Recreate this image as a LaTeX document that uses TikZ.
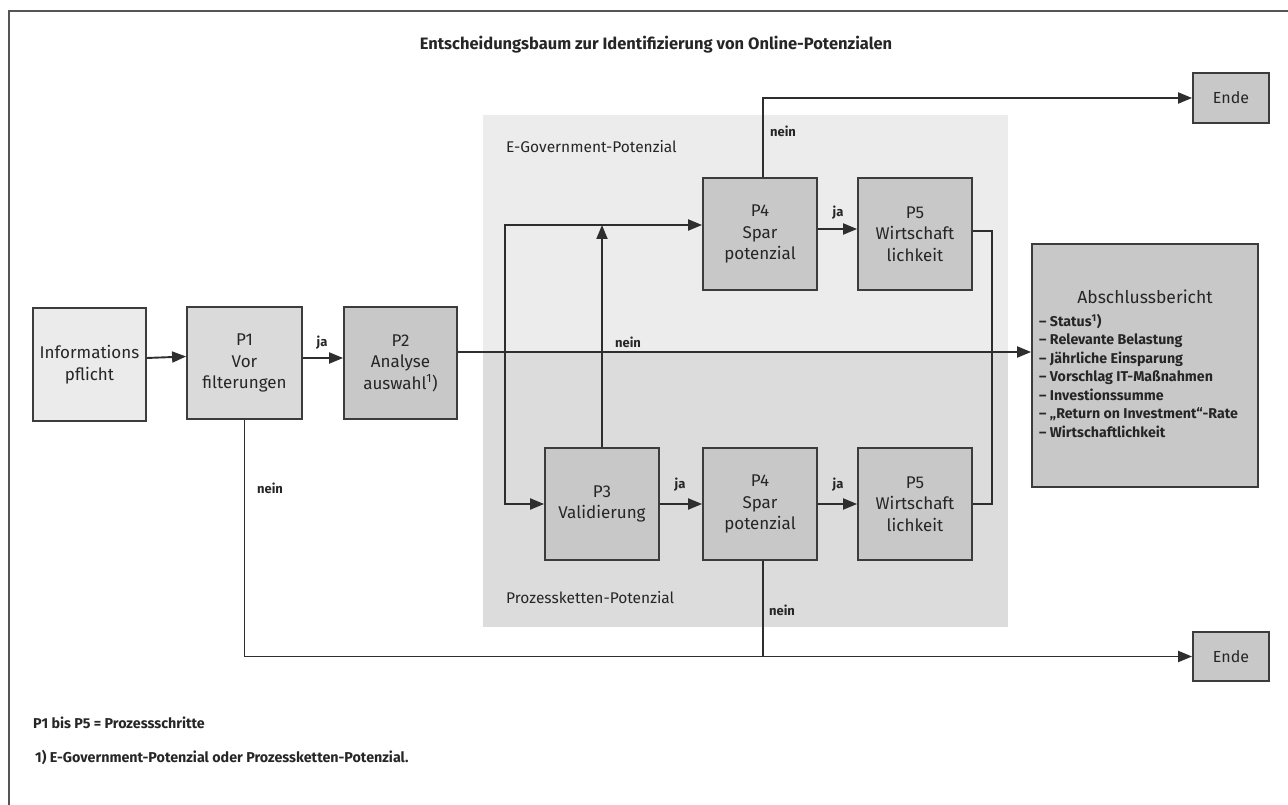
\documentclass[tikz,border=0pt]{standalone}
\usepackage{fontspec}
\setmainfont{Fira Sans}
\usetikzlibrary{arrows.meta,calc}
\definecolor{linec}{HTML}{2E2E2E}
\definecolor{boxline}{HTML}{3C3C3C}
\definecolor{framec}{HTML}{555555}
\definecolor{txt}{HTML}{262626}
\definecolor{upperbg}{HTML}{ECECEC}
\definecolor{lowerbg}{HTML}{DCDCDD}
\definecolor{fInfo}{HTML}{EBEBEB}
\definecolor{fP1}{HTML}{DADADA}
\definecolor{fP}{HTML}{C8C8C9}
\begin{document}
\begin{tikzpicture}[x=1pt,y=-1pt,
  box/.style={draw=boxline, line width=1.8pt, inner sep=0pt, align=center, text=txt,
              font=\fontsize{17}{21.5}\selectfont, minimum width=114pt, minimum height=112pt, fill=fP},
  endbox/.style={draw=boxline, line width=1.8pt, inner sep=0pt, text=txt, fill=fP,
              font=\fontsize{16}{19}\selectfont, minimum width=76pt, minimum height=50pt},
  conn/.style={draw=linec, line width=1.9pt},
  arr/.style={conn, -{Triangle[length=14pt,width=11pt]}},
  lbl/.style={font=\bfseries\fontsize{13}{15}\selectfont, text=txt, inner sep=0pt},
  region/.style={font=\fontsize{15.5}{18}\selectfont, text=txt, inner sep=0pt, anchor=west},
  foot/.style={font=\bfseries\fontsize{14.3}{16}\selectfont, text=txt, inner sep=0pt, anchor=west},
]
\useasboundingbox (0,0) rectangle (1288,805);
% outer frame (left and top)
\draw[draw=framec, line width=2.5pt] (9,805) -- (9,11) -- (1288,11);
% title
\node[font=\bfseries\fontsize{16.5}{20}\selectfont, text=txt, inner sep=0pt] (title) at (656,45)
  {Entscheidungsbaum zur Identifizierung von Online-Potenzialen};
% background regions
\fill[upperbg] (483,115) rectangle (1008,352);
\fill[lowerbg] (483,352) rectangle (1008,627);
\node[region] (egov) at (506,147) {E-Government-Potenzial};
\node[region] (pk) at (506,598) {Prozessketten-Potenzial};
% helper coordinates
\coordinate (mainY) at (0,352);
\coordinate (topY) at (0,225);
\coordinate (bx) at (505,0);
\coordinate (rx) at (992,0);
% boxes
\node[box, fill=fInfo, minimum width=113pt, minimum height=113pt] (info) at (89.5,364.5) {Informations\\pflicht};
\node[box, fill=fP1, minimum width=115pt] (p1) at (244.5,363) {P1\\Vor\\filterungen};
\node[box, minimum width=113pt] (p2) at (400.5,363) {P2\\Analyse\\auswahl\textsuperscript{1})};
\node[box] (p4a) at (760,234) {P4\\Spar\\potenzial};
\node[box] (p5a) at (915,234) {P5\\Wirtschaft\\lichkeit};
\node[box] (p3) at (602,504) {P3\\Validierung};
\node[box] (p4b) at (760,504) {P4\\Spar\\potenzial};
\node[box] (p5b) at (915,504) {P5\\Wirtschaft\\lichkeit};
\node[box, minimum width=226pt, minimum height=243pt] (ab) at (1145,365.5) {};
\node[font=\fontsize{17.5}{20}\selectfont, text=txt, inner sep=0pt] (abT) at (1145,297) {Abschlussbericht};
\node[font=\bfseries\fontsize{14.2}{18.5}\selectfont, text=txt, inner sep=0pt, align=left, anchor=north west]
  (abL) at (1039,314) {– Status\textsuperscript{1})\\– Relevante Belastung\\– Jährliche Einsparung\\– Vorschlag IT-Maßnahmen\\– Investionssumme\\– „Return on Investment“-Rate\\– Wirtschaftlichkeit};
\node[endbox] (endeA) at (1231,98) {Ende};
\node[endbox, minimum height=49pt] (endeB) at (1231,656.5) {Ende};
% connectors
\draw[arr] ([yshift=6.5pt]info.east) -- ([yshift=6.5pt]p1.west);
\draw[arr] ([yshift=5pt]p1.east) -- ([yshift=5pt]p2.west);
\draw[arr] (p2.east |- mainY) -- (ab.west |- mainY);
\draw[arr] (bx |- mainY) |- ([yshift=9pt]p4a.west);
\draw[arr] (bx |- mainY) |- (p3.west);
\draw[arr] (p3.north) -- (p3.north |- topY);
\draw[arr] (p3.east) -- (p4b.west);
\draw[arr] (p4b.east) -- (p5b.west);
\draw[arr] ([yshift=5pt]p4a.east) -- ([yshift=5pt]p5a.west);
\draw[conn] ([yshift=3pt]p5a.east) -| (rx |- mainY);
\draw[conn] (p5b.east) -| (rx |- mainY);
\draw[arr] ([xshift=3pt]p4a.north) |- (endeA.west);
\draw[arr] (p1.south) |- (endeB.west);
\draw[draw=linec, line width=1.1pt] ([xshift=3pt]p4b.south) -- ([xshift=3pt]p4b.south |- endeB.west);
% labels
\node[lbl] (ja1) at (322,343) {ja};
\node[lbl] (nein1) at (628,342) {nein};
\node[lbl] (nein2) at (783,131) {nein};
\node[lbl] (ja2) at (838,213) {ja};
\node[lbl] (ja3) at (680,485) {ja};
\node[lbl] (ja4) at (838,485) {ja};
\node[lbl] (nein3) at (782,610) {nein};
\node[lbl] (nein4) at (270,488) {nein};
% footnotes
\node[foot] (fn1) at (33,723) {P1 bis P5 = Prozessschritte};
\node[foot] (fn2) at (35,757) {1) E-Government-Potenzial oder Prozessketten-Potenzial.};
\end{tikzpicture}
\end{document}
